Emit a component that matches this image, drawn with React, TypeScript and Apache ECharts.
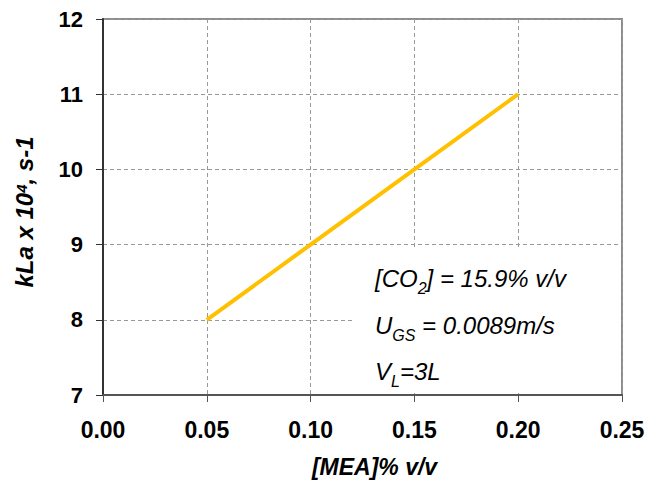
import React, { useEffect, useRef } from "react";
import * as echarts from "echarts";

const mea: number[] = [0.05, 0.1, 0.15, 0.2];
const kla: number[] = [8, 9, 10, 11];
const xTicks = { min: 0, max: 0.25, interval: 0.05 };
const yTicks = { min: 7, max: 12, interval: 1 };
const xTitle = "[MEA]% v/v";
const annotations: string[][] = [
  ["[CO", "2", "] = 15.9% v/v"],
  ["U", "GS", " = 0.0089m/s"],
  ["V", "L", "=3L"],
];

export default function App() {
  const ref = useRef<HTMLDivElement>(null);
  useEffect(() => {
    if (!ref.current) return;
    const chart = echarts.init(ref.current, null, { renderer: "svg" });
    const font = "'Liberation Sans', Arial, sans-serif";
    const annFont = "'Liberation Sans', Arial, sans-serif";
    const annStyle = {
      a: { fontSize: 24, fontStyle: "italic", fontFamily: annFont, color: "#000", lineHeight: 30, verticalAlign: "bottom" },
      s: { fontSize: 16, fontStyle: "italic", fontFamily: annFont, color: "#000", lineHeight: 30, verticalAlign: "bottom", padding: [0, 0, -6, 0] },
    };
    const annY = [275, 322, 368];
    chart.setOption({
      animation: false,
      backgroundColor: "#fff",
      grid: {
        left: 103,
        right: 27,
        top: 19,
        bottom: 89,
        show: true,
        borderColor: "#8c8c8c",
        borderWidth: 2,
        backgroundColor: "transparent",
        containLabel: false,
        outerBoundsMode: "none",
      },
      xAxis: {
        type: "value",
        min: xTicks.min,
        max: xTicks.max,
        interval: xTicks.interval,
        axisLine: { show: true, onZero: false, lineStyle: { color: "#555", width: 2 } },
        axisTick: { show: true, inside: false, length: 7, lineStyle: { color: "#555", width: 1 } },
        splitLine: { show: true, lineStyle: { color: "#999", type: [4, 3], width: 1 } },
        axisLabel: {
          formatter: (v: number) => v.toFixed(2),
          fontFamily: font,
          fontWeight: "bold",
          fontSize: 23,
          color: "#000",
          margin: 23,
        },
        name: xTitle,
        nameLocation: "middle",
        nameGap: 60,
        nameTextStyle: {
          fontFamily: font,
          fontWeight: "bold",
          fontStyle: "italic",
          fontSize: 23,
          color: "#000",
          padding: [0, 0, 0, 24],
        },
      },
      yAxis: {
        type: "value",
        min: yTicks.min,
        max: yTicks.max,
        interval: yTicks.interval,
        axisLine: { show: true, onZero: false, lineStyle: { color: "#333", width: 2 } },
        axisTick: { show: true, inside: false, length: 7, lineStyle: { color: "#333", width: 1 } },
        splitLine: { show: true, lineStyle: { color: "#999", type: [4, 3], width: 1 } },
        axisLabel: {
          fontFamily: font,
          fontWeight: "bold",
          fontSize: 22,
          color: "#000",
          margin: 20,
        },
      },
      series: [
        {
          type: "line",
          data: mea.map((x, i) => [x, kla[i]]),
          showSymbol: false,
          symbol: "none",
          lineStyle: { color: "#FFC000", width: 4 },
          z: 2,
        },
      ],
      graphic: [
        {
          type: "rect",
          z: 1,
          shape: { x: 353, y: 247, width: 267, height: 146 },
          style: { fill: "#fff" },
        },
        {
          type: "text",
          z: 10,
          x: 27,
          y: 212,
          rotation: Math.PI / 2,
          style: {
            text: "{m|kLa x 10}{p|4}{m|, s-1}",
            align: "center",
            verticalAlign: "middle",
            rich: {
              m: { fontSize: 24, fontWeight: "bold", fontStyle: "italic", fontFamily: font, color: "#000", lineHeight: 30, verticalAlign: "top" },
              p: { fontSize: 15, fontWeight: "bold", fontStyle: "italic", fontFamily: font, color: "#000", lineHeight: 30, verticalAlign: "top", padding: [2, 0, 0, 0] },
            },
          },
        },
        ...annotations.map((parts, i) => ({
          type: "text",
          z: 10,
          x: 375,
          y: annY[i],
          style: {
            text: `{a|${parts[0]}}{s|${parts[1]}}{a|${parts[2]}}`,
            align: "left",
            verticalAlign: "middle",
            rich: annStyle,
          },
        })),
      ],
    });
    return () => chart.dispose();
  }, []);
  return <div ref={ref} style={{ width: 649, height: 484, position: "absolute", left: 0, top: 0 }} />;
}
